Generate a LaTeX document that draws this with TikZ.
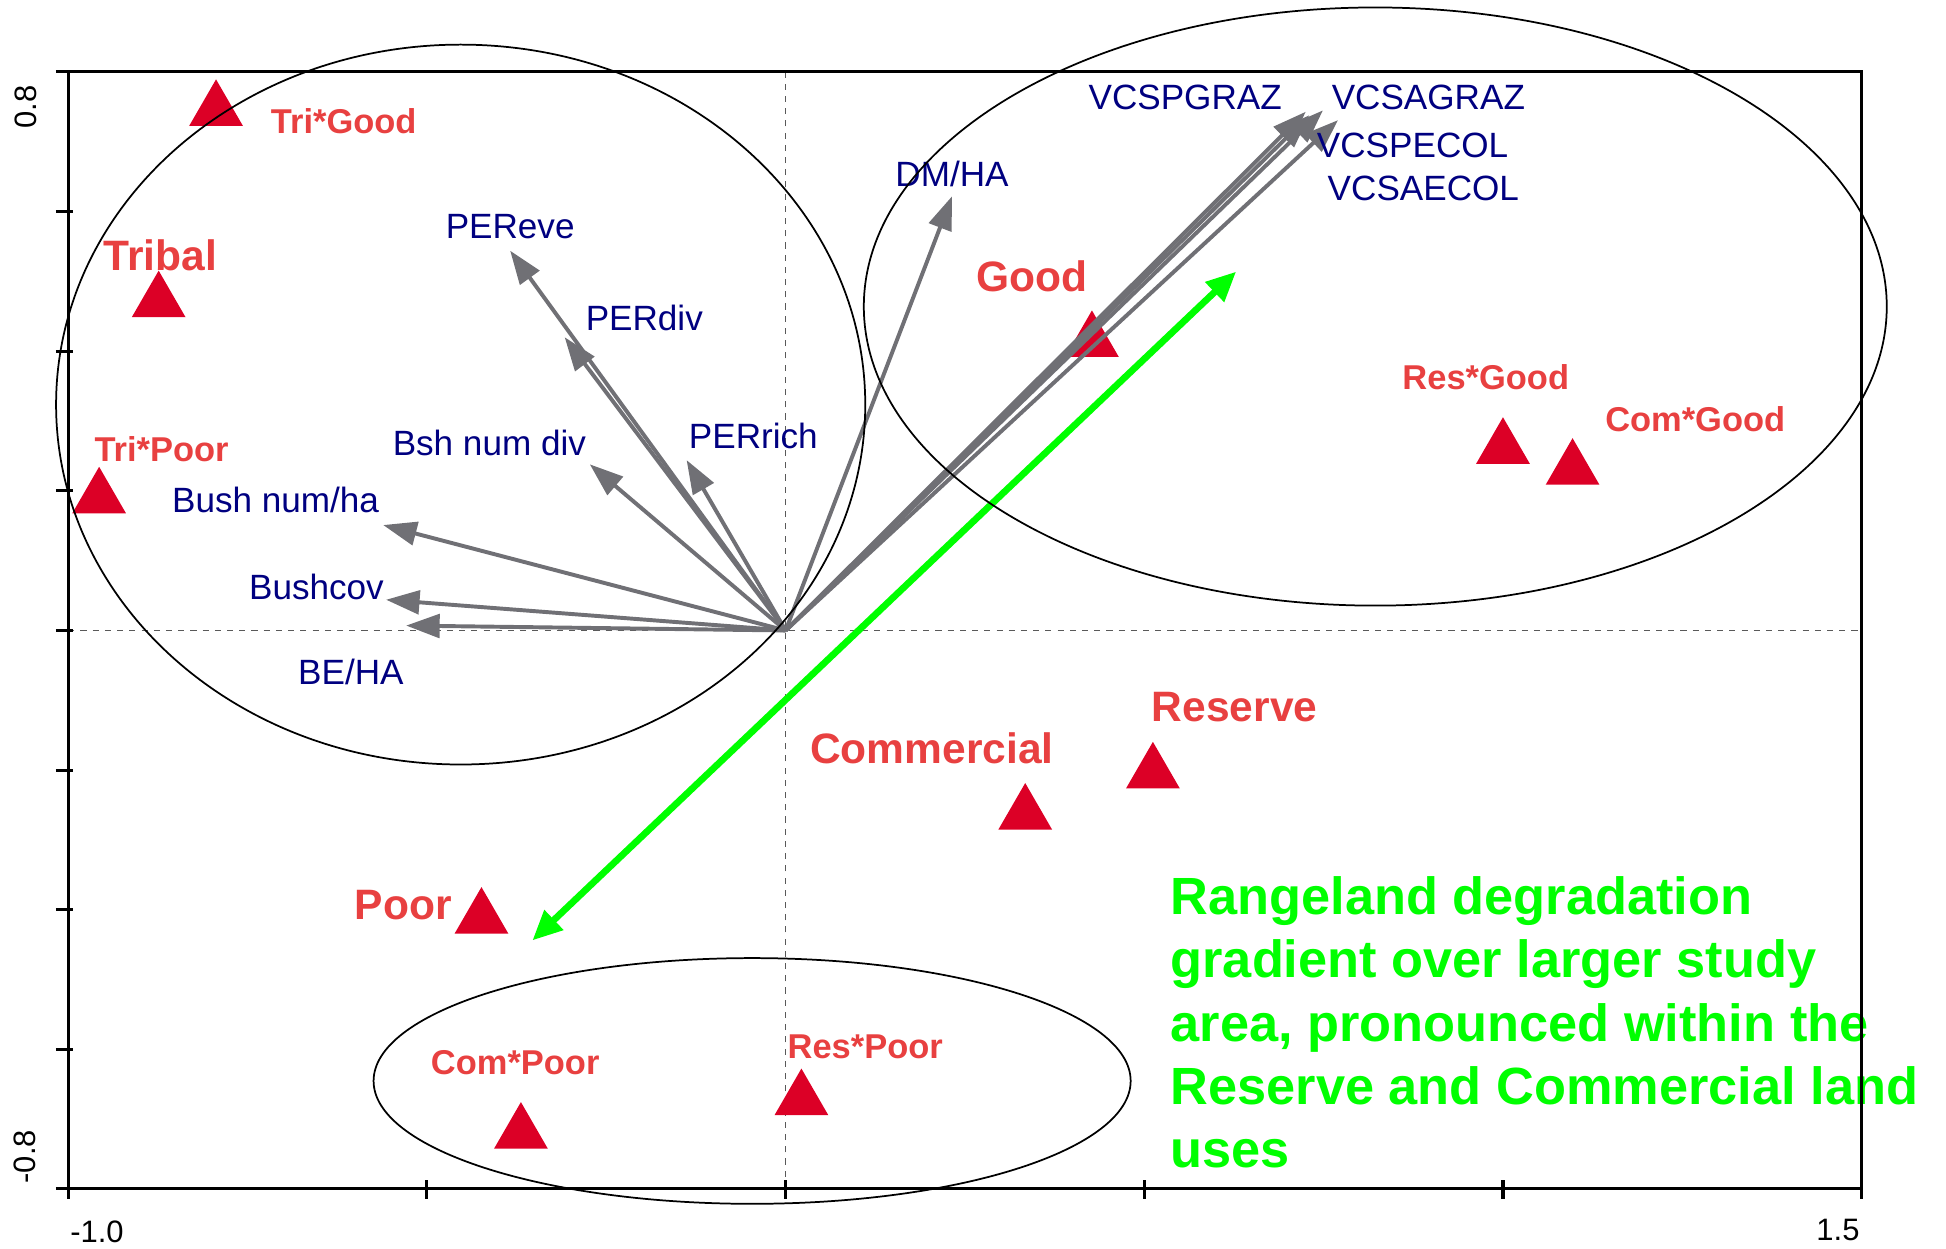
\documentclass[tikz,border=0pt]{standalone}
\usepackage{fontspec}
\setmainfont{Liberation Sans}
\usetikzlibrary{arrows.meta,shapes.geometric,positioning}
\definecolor{sitered}{RGB}{220,0,38}
\definecolor{labred}{RGB}{232,64,64}
\definecolor{varblue}{RGB}{0,0,128}
\definecolor{vecgray}{RGB}{112,112,117}
\definecolor{gradgreen}{RGB}{0,255,0}
\tikzset{
    site/.style={regular polygon, regular polygon sides=3, fill=sitered, inner sep=0pt, minimum size=1cm},
    biglab/.style={text=labred, font=\bfseries\fontsize{19.5}{23}\selectfont, inner sep=0pt},
    smalllab/.style={text=labred, font=\bfseries\fontsize{15.8}{19}\selectfont, inner sep=0pt},
    var/.style={text=varblue, font=\fontsize{16.1}{19}\selectfont, inner sep=0pt},
    vec/.style={draw=vecgray, line width=1.8pt, -{Triangle[length=0.54cm,width=0.38cm]}},
    grad/.style={draw=gradgreen, line width=3.1pt, {Triangle[length=0.48cm,width=0.42cm]}-{Triangle[length=0.48cm,width=0.42cm]}},
    gradtext/.style={text=gradgreen, font=\bfseries\fontsize{24}{29}\selectfont, align=left, anchor=north west, inner sep=0pt},
    group/.style={draw=black, line width=0.8pt},
    zeroline/.style={draw=black!65, line width=0.6pt, dash pattern=on 2.8pt off 2.8pt},
    frame/.style={draw=black, line width=1.4pt},
    ticklab/.style={font=\fontsize{14.2}{17}\selectfont, inner sep=0pt}
}

\begin{document}
\begin{tikzpicture}[x=11.56cm, y=11.25cm]
    \useasboundingbox (-1.0952,-0.8853) rectangle (1.6176,0.9031);
    \draw[zeroline] (0,-0.8) -- (0,0.8);
    \draw[zeroline] (-1,0) -- (1.5,0);

    % sites
    \node[site] (trigood) at (-0.794,0.745) {};
    \node[site] (tribal) at (-0.874,0.471) {};
    \node[site] (tripoor) at (-0.957,0.190) {};
    \node[site] (good) at (0.427,0.414) {};
    \node[site] (resgood) at (1.000,0.261) {};
    \node[site] (comgood) at (1.097,0.231) {};
    \node[site] (reserve) at (0.512,-0.204) {};
    \node[site] (commercial) at (0.334,-0.263) {};
    \node[site] (poor) at (-0.424,-0.412) {};
    \node[site] (compoor) at (-0.369,-0.720) {};
    \node[site] (respoor) at (0.022,-0.672) {};

    \node[smalllab] (trigoodlab) at (-0.616,0.729) {Tri*Good};
    \node[biglab] (triballab) at (-0.872,0.537) {Tribal};
    \node[smalllab] (tripoorlab) at (-0.870,0.260) {Tri*Poor};
    \node[biglab] (goodlab) at (0.344,0.507) {Good};
    \node[smalllab] (resgoodlab) at (0.976,0.363) {Res*Good};
    \node[smalllab] (comgoodlab) at (1.268,0.302) {Com*Good};
    \node[biglab] (reservelab) at (0.626,-0.110) {Reserve};
    \node[biglab] (commerciallab) at (0.204,-0.169) {Commercial};
    \node[biglab] (poorlab) at (-0.533,-0.393) {Poor};
    \node[smalllab] (compoorlab) at (-0.377,-0.619) {Com*Poor};
    \node[smalllab] (respoorlab) at (0.111,-0.596) {Res*Poor};

    % variables
    \coordinate (o) at (0,0);
    \coordinate (pereve) at (-0.384,0.544);
    \coordinate (perdiv) at (-0.308,0.420);
    \coordinate (perrich) at (-0.138,0.244);
    \coordinate (bshdiv) at (-0.273,0.238);
    \coordinate (bushha) at (-0.561,0.151);
    \coordinate (bushcov) at (-0.557,0.044);
    \coordinate (beha) at (-0.529,0.007);
    \coordinate (dmha) at (0.232,0.622);
    \coordinate (vcspgraz) at (0.725,0.743);
    \coordinate (vcsagraz) at (0.749,0.745);
    \coordinate (vcspecol) at (0.770,0.731);
    \coordinate (vcsaecol) at (0.730,0.738);

    \foreach \v in {pereve,perdiv,perrich,bshdiv,bushha,bushcov,beha,dmha,vcspgraz,vcsagraz,vcspecol,vcsaecol}
        \draw[vec] (o) -- (\v);

    \node[var] (perevelab) at (-0.384,0.578) {PEReve};
    \node[var] (perdivlab) at (-0.197,0.448) {PERdiv};
    \node[var] (perrichlab) at (-0.045,0.279) {PERrich};
    \node[var] (bshdivlab) at (-0.413,0.268) {Bsh num div};
    \node[var] (bushhalab) at (-0.711,0.187) {Bush num/ha};
    \node[var] (bushcovlab) at (-0.654,0.062) {Bushcov};
    \node[var] (behalab) at (-0.606,-0.059) {BE/HA};
    \node[var] (dmhalab) at (0.232,0.654) {DM/HA};
    \node[var] (vcspgrazlab) at (0.557,0.763) {VCSPGRAZ};
    \node[var] (vcsagrazlab) at (0.896,0.764) {VCSAGRAZ};
    \node[var] (vcspecollab) at (0.874,0.695) {VCSPECOL};
    \node[var] (vcsaecollab) at (0.889,0.633) {VCSAECOL};

    % gradient
    \coordinate (gradlo) at (-0.353,-0.444);
    \coordinate (gradhi) at (0.628,0.514);
    \draw[grad] (gradlo) -- (gradhi);
    \node[gradtext] (note) at (0.536,-0.352) {Rangeland degradation\\gradient over larger study\\area, pronounced within the\\Reserve and Commercial land\\uses};

    % groups
    \draw[group] (-0.453,0.3236) ellipse [x radius=0.564, y radius=0.5156];
    \draw[group] (0.822,0.464) ellipse [x radius=0.713, y radius=0.4284];
    \draw[group] (-0.0467,-0.6453) ellipse [x radius=0.5277, y radius=0.176];

    % frame
    \draw[frame] (-1,-0.8) rectangle (1.5,0.8);
    \foreach \t in {-0.8,-0.6,-0.4,-0.2,0,0.2,0.4,0.6,0.8}
        \draw[frame] (-1.0173,\t) -- (-0.993,\t);
    \foreach \t in {-1,-0.5,0,0.5,1,1.5}
        \draw[frame] (\t,-0.8142) -- (\t,-0.7875);
    \node[ticklab, rotate=90] (ymax) at (-1.059,0.750) {0.8};
    \node[ticklab, rotate=90] (ymin) at (-1.061,-0.754) {-0.8};
    \node[ticklab] (xmin) at (-0.960,-0.862) {-1.0};
    \node[ticklab] (xmax) at (1.467,-0.859) {1.5};
\end{tikzpicture}
\end{document}
